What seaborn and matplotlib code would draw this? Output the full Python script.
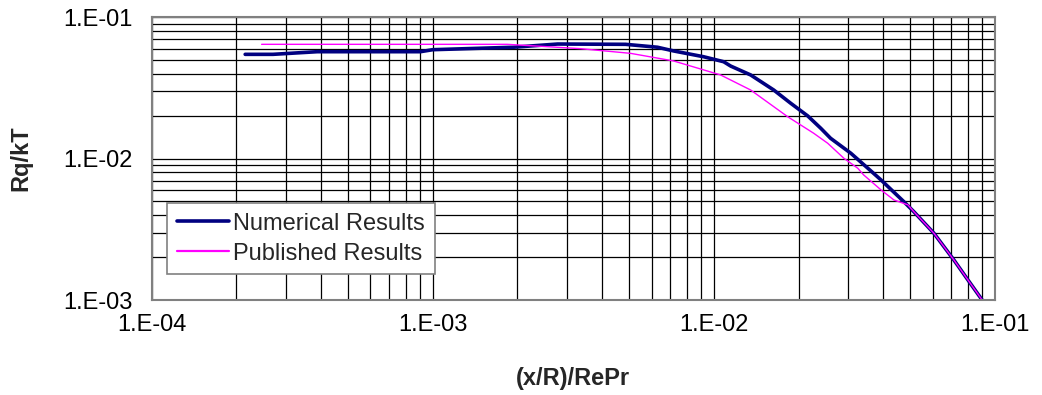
import numpy as np
import pandas as pd
import matplotlib
matplotlib.use("Agg")
import matplotlib.pyplot as plt
from matplotlib.ticker import FixedLocator, FuncFormatter, LogLocator, NullFormatter
import seaborn as sns

# Dimensionless axial position (x/R)/RePr and local heat-transfer group Rq/kT
num_x = [2.15e-4, 2.70e-4, 3.88e-4, 9.03e-4, 1.00e-3, 1.935e-3, 2.78e-3, 4.85e-3,
         6.30e-3, 7.19e-3, 9.19e-3, 1.083e-2, 1.147e-2, 1.351e-2, 1.632e-2, 1.876e-2,
         2.157e-2, 2.40e-2, 2.60e-2, 3.07e-2, 3.53e-2, 3.93e-2, 4.74e-2, 5.14e-2,
         6.06e-2, 7.14e-2, 8.01e-2, 9.00e-2]
num_y = [0.0547, 0.0547, 0.0571, 0.0571, 0.0590, 0.0614, 0.0647, 0.0644,
         0.0614, 0.0578, 0.0526, 0.0485, 0.0452, 0.0391, 0.0306, 0.02465,
         0.02005, 0.0164, 0.01394, 0.01092, 8.55e-3, 7.07e-3, 4.96e-3, 4.22e-3,
         2.97e-3, 1.92e-3, 1.387e-3, 1.00e-3]

pub_x = [2.46e-4, 1.84e-3, 3.35e-3, 5.05e-3, 7.19e-3, 1.056e-2, 1.351e-2, 1.83e-2,
         2.265e-2, 2.54e-2, 2.90e-2, 3.25e-2, 3.41e-2, 3.93e-2, 4.37e-2, 4.90e-2,
         5.14e-2, 6.06e-2, 7.14e-2, 8.01e-2, 9.00e-2]
pub_y = [0.0644, 0.0644, 0.0600, 0.0556, 0.0491, 0.0391, 0.0306, 0.0198,
         0.01512, 0.01285, 0.01006, 8.55e-3, 7.67e-3, 6.01e-3, 5.10e-3, 4.71e-3,
         4.22e-3, 2.97e-3, 1.92e-3, 1.387e-3, 1.00e-3]

x_ticks = [1e-4, 1e-3, 1e-2, 1e-1]
y_ticks = [1e-3, 1e-2, 1e-1]

sns.set_style("white")
plt.rcParams["font.family"] = ["Liberation Sans", "DejaVu Sans"]
FS = 17

num_df = pd.DataFrame({"x": num_x, "y": num_y})
pub_df = pd.DataFrame({"x": pub_x, "y": pub_y})

fig = plt.figure(figsize=(10.42, 3.95), dpi=100)
ax = fig.add_axes([0.1456, 0.2405, 0.8093, 0.7157])

ax.set_xscale("log")
ax.set_yscale("log")
ax.set_xlim(1e-4, 1e-1)
ax.set_ylim(1e-3, 1e-1)

# full log grid, major and minor
ax.xaxis.set_major_locator(FixedLocator(x_ticks))
ax.yaxis.set_major_locator(FixedLocator(y_ticks))
ax.xaxis.set_minor_locator(LogLocator(base=10, subs=np.arange(2, 10)))
ax.yaxis.set_minor_locator(LogLocator(base=10, subs=np.arange(2, 10)))
ax.xaxis.set_minor_formatter(NullFormatter())
ax.yaxis.set_minor_formatter(NullFormatter())
ax.grid(True, which="both", color="#000000", linewidth=0.9)
ax.set_axisbelow(True)

sns.lineplot(data=num_df, x="x", y="y", ax=ax, color="#000080", linewidth=2.6,
             sort=False, estimator=None, label="Numerical Results")
sns.lineplot(data=pub_df, x="x", y="y", ax=ax, color="#FF00FF", linewidth=1.0,
             sort=False, estimator=None, label="Published Results")


def sci_label(v, pos):
    return "1.E-{:02d}".format(int(round(-np.log10(v))))


ax.xaxis.set_major_formatter(FuncFormatter(sci_label))
ax.yaxis.set_major_formatter(FuncFormatter(sci_label))
ax.tick_params(axis="both", which="both", length=0, labelsize=FS, colors="#000000")
ax.tick_params(axis="x", pad=10)
ax.tick_params(axis="y", pad=14)

for s in ax.spines.values():
    s.set_color("#808080")
    s.set_linewidth(1.5)

ax.set_xlabel("(x/R)/RePr", fontsize=FS, fontweight="bold")
ax.set_ylabel("Rq/kT", fontsize=FS, fontweight="bold")
ax.xaxis.set_label_coords(0.5, -0.236)
ax.yaxis.set_label_coords(-0.141, 0.5)

leg = ax.legend(loc="lower left", bbox_to_anchor=(0.0185, 0.092), borderaxespad=0,
                fontsize=FS, frameon=True, fancybox=False, framealpha=1,
                edgecolor="#808080", handlelength=2.2, handletextpad=0.2,
                borderpad=0.4, labelspacing=0.33)
leg.get_frame().set_linewidth(1.2)
leg.get_lines()[0].set_linewidth(2.6)
leg.get_lines()[1].set_linewidth(1.6)

fig.savefig("out.png", dpi=100)
